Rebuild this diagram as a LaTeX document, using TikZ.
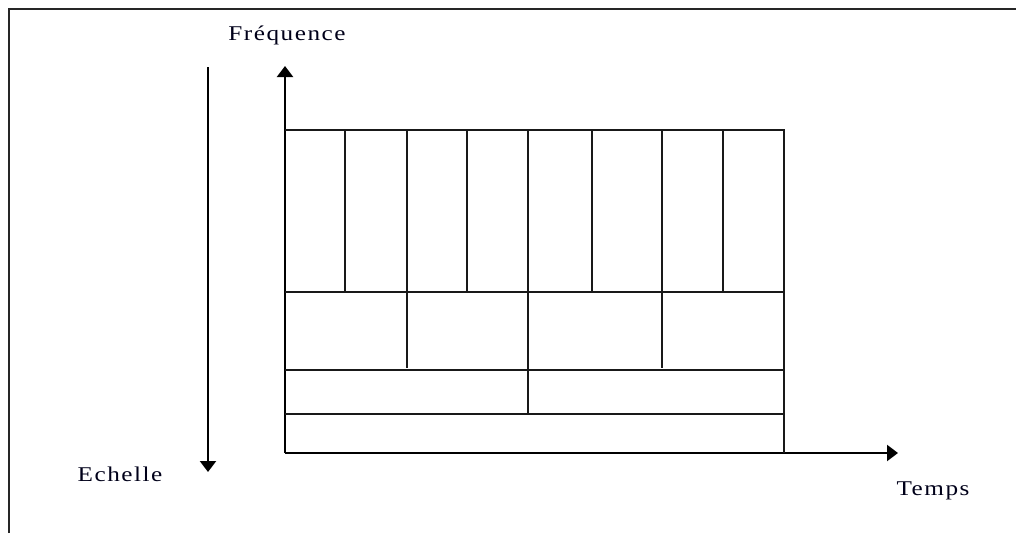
\documentclass[tikz,border=0pt]{standalone}
\usepackage{fontspec}
\setmainfont{Liberation Serif}
\usetikzlibrary{arrows.meta}
\begin{document}
\begin{tikzpicture}[x=1pt,y=-1pt,
  frame/.style={line width=2pt,black!85},
  grid/.style={line width=1.4pt,black!90},
  axis/.style={line width=2.2pt,black,-{Triangle[width=16pt,length=11pt]}},
  lbl/.style={font=\fontsize{21}{23}\selectfont\addfontfeature{LetterSpace=6},text=black!90!blue,inner sep=0pt,xscale=1.2,transform shape}]
\useasboundingbox (0,0) rectangle (1016,533);
% frame (cropped)
\draw[frame] (9,533) -- (9,9) -- (1016,9);
% axes
\coordinate (O) at (285,453);
\coordinate (ytip) at (285,66);
\coordinate (xtip) at (898,453);
\draw[axis] (O) -- (ytip);
\draw[axis] (O) -- (xtip);
\coordinate (es) at (208,67);
\coordinate (ee) at (208,472);
\draw[axis] (es) -- (ee);
% grid
\draw[grid] (285,130) -- (784,130) -- (784,453);
\draw[grid] (285,292) -- (784,292);
\draw[grid] (285,370) -- (784,370);
\draw[grid] (285,414) -- (784,414);
\foreach \x in {345,467,592,723} \draw[grid] (\x,130) -- (\x,292);
\foreach \x in {407,662} \draw[grid] (\x,130) -- (\x,368);
\draw[grid] (528,130) -- (528,414);
% labels
\node[lbl] (freq) at (287,35) {Fréquence};
\node[lbl] (ech) at (120,474) {Echelle};
\node[lbl] (temps) at (933,491) {Temps};
\end{tikzpicture}
\end{document}
